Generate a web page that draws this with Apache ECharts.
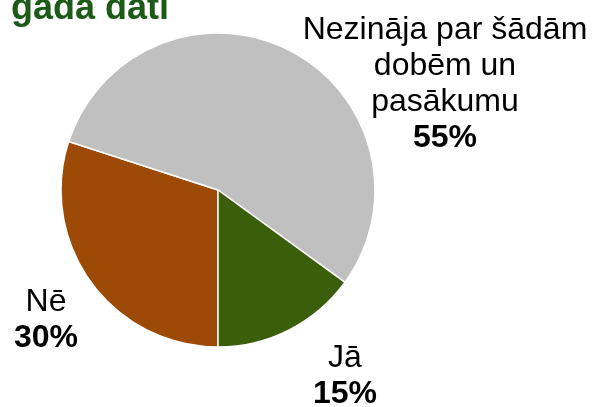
<!DOCTYPE html>
<html>
<head>
<meta charset="utf-8">
<script src="https://cdn.jsdelivr.net/npm/echarts@6/dist/echarts.min.js"></script>
<style>html,body{margin:0;padding:0;background:#fff;}#c{width:594px;height:407px;}</style>
</head>
<body>
<div id="c"></div>
<script>
const categories = ["Nē", "Nezināja par šādām\ndobēm un\npasākumu", "Jā"];
const values = [30, 55, 15];
const colors = ["#9C4A06", "#C0C0C0", "#3B5E0B"];
const titleText = "gada dati";

const labelPos = [
  {x: 46, y: 320},
  {x: 445, y: 84},
  {x: 345, y: 376}
];

const chart = echarts.init(document.getElementById('c'));
chart.setOption({
  animation: false,
  title: {
    text: titleText,
    left: 6,
    top: -14,
    textStyle: {fontFamily: 'Liberation Sans, Arial', fontSize: 36, fontWeight: 'bold', color: '#1C5A18'}
  },
  series: [{
    type: 'pie',
    center: [218, 190],
    radius: 157,
    startAngle: -90,
    clockwise: true,
    data: categories.map((c, i) => ({name: c, value: values[i], itemStyle: {color: colors[i]}})),
    itemStyle: {borderColor: '#fff', borderWidth: 1.5},
    label: {
      show: true,
      position: 'outside',
      overflow: 'none',
      formatter: p => '{n|' + p.name + '}\n{p|' + p.value + '%}',
      align: 'center',
      rich: {
        n: {fontFamily: 'Liberation Sans, Arial', fontSize: 32, color: '#000', lineHeight: 36, align: 'center'},
        p: {fontFamily: 'Liberation Sans, Arial', fontSize: 32, fontWeight: 'bold', color: '#000', lineHeight: 36, align: 'center'}
      }
    },
    labelLine: {show: false},
    labelLayout: function (params) {
      const lp = labelPos[params.dataIndex];
      return {x: lp.x, y: lp.y, align: 'center', verticalAlign: 'middle'};
    },
    emphasis: {disabled: true}
  }]
});
</script>
</body>
</html>
